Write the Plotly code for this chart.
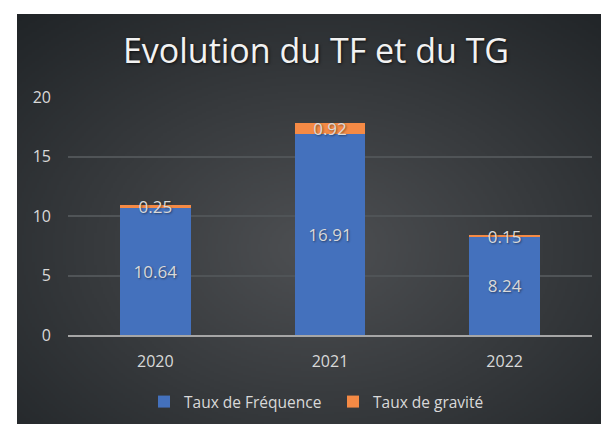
import base64, struct, zlib
import numpy as np
import plotly.graph_objects as go

years = ["2020", "2021", "2022"]
taux_frequence = [10.64, 16.91, 8.24]
taux_gravite = [0.25, 0.92, 0.15]
y_ticks = [0, 5, 10, 15, 20]

W, H = 601, 424


def radial_png(w, h, center, edge, cx=0.5, cy=0.55):
    yy, xx = np.mgrid[0:h, 0:w]
    dx = (xx / (w - 1) - cx) / 0.75
    dy = (yy / (h - 1) - cy) / 0.75
    r = np.clip(np.sqrt(dx ** 2 + dy ** 2), 0, 1)
    c = np.array(center, float)
    e = np.array(edge, float)
    img = (c[None, None, :] * (1 - r[..., None]) + e[None, None, :] * r[..., None]).astype(np.uint8)
    raw = b"".join(b"\x00" + img[i].tobytes() for i in range(h))

    def chunk(t, d):
        return struct.pack(">I", len(d)) + t + d + struct.pack(">I", zlib.crc32(t + d) & 0xffffffff)

    png = b"\x89PNG\r\n\x1a\n" + chunk(b"IHDR", struct.pack(">IIBBBBB", w, h, 8, 2, 0, 0, 0)) \
        + chunk(b"IDAT", zlib.compress(raw, 9)) + chunk(b"IEND", b"")
    return "data:image/png;base64," + base64.b64encode(png).decode()


bg = radial_png(292, 205, (78, 80, 83), (32, 36, 39))

font_family = "Open Sans, Noto Sans, sans-serif"
label_color = "#d9d9d9"
label_shadow = "1px 1px 2px rgba(0,0,0,0.45)"

fig = go.Figure()
fig.add_trace(go.Bar(
    x=years, y=taux_frequence, name="Taux de Fréquence",
    marker=dict(color="#4471bd", line=dict(width=0)),
    text=[f"{v:.2f}" for v in taux_frequence], textposition="inside",
    insidetextanchor="middle",
    textfont=dict(color=label_color, size=17, family=font_family, shadow=label_shadow),
))
fig.add_trace(go.Bar(
    x=years, y=taux_gravite, name="Taux de gravité",
    marker=dict(color="#f58a45", line=dict(width=0)),
    text=[f"{v:.2f}" for v in taux_gravite], textposition="inside",
    insidetextanchor="middle",
    textfont=dict(color=label_color, size=17, family=font_family, shadow=label_shadow),
))

fig.update_layout(
    width=W, height=H,
    barmode="stack", bargap=0.595,
    paper_bgcolor="white", plot_bgcolor="rgba(0,0,0,0)",
    margin=dict(l=68, r=9, t=97, b=89, autoexpand=False),
    uniformtext=dict(minsize=17, mode="show"),
    title=dict(text="Evolution du TF et du TG", x=316 / W, xanchor="center",
               y=1 - 51 / H, yanchor="middle",
               font=dict(size=34, color="#f2f2f2", family=font_family,
                         shadow="1px 1px 3px rgba(0,0,0,0.7)")),
    font=dict(family=font_family, color=label_color, size=16),
    images=[dict(source=bg, xref="paper", yref="paper",
                 x=(17 - 68) / 524, y=1 + 83 / 238,
                 sizex=(620 - 17) / 524, sizey=(440 - 14) / 238,
                 xanchor="left", yanchor="top", sizing="stretch", layer="below")],
    legend=dict(orientation="h", xref="container", yref="container",
                x=333 / W, xanchor="center", y=1 - 402 / H, yanchor="middle",
                font=dict(size=15.5, color=label_color), traceorder="normal",
                itemwidth=30, entrywidth=144, entrywidthmode="pixels",
                bgcolor="rgba(0,0,0,0)"),
    showlegend=True,
)
fig.update_xaxes(showgrid=False, showline=True, linecolor="#a6a6a6", linewidth=2,
                 ticks="", ticklabelstandoff=11, tickfont=dict(size=16, color=label_color))
fig.update_yaxes(range=[0, 20], tickvals=y_ticks, showgrid=True, gridcolor="#505457",
                 gridwidth=1.5, zeroline=False, showline=False, ticks="",
                 ticklabelstandoff=16, tickfont=dict(size=16, color=label_color))

fig.write_html("out.html", config={"displayModeBar": False},
               post_script="document.body.style.margin='0px';")
